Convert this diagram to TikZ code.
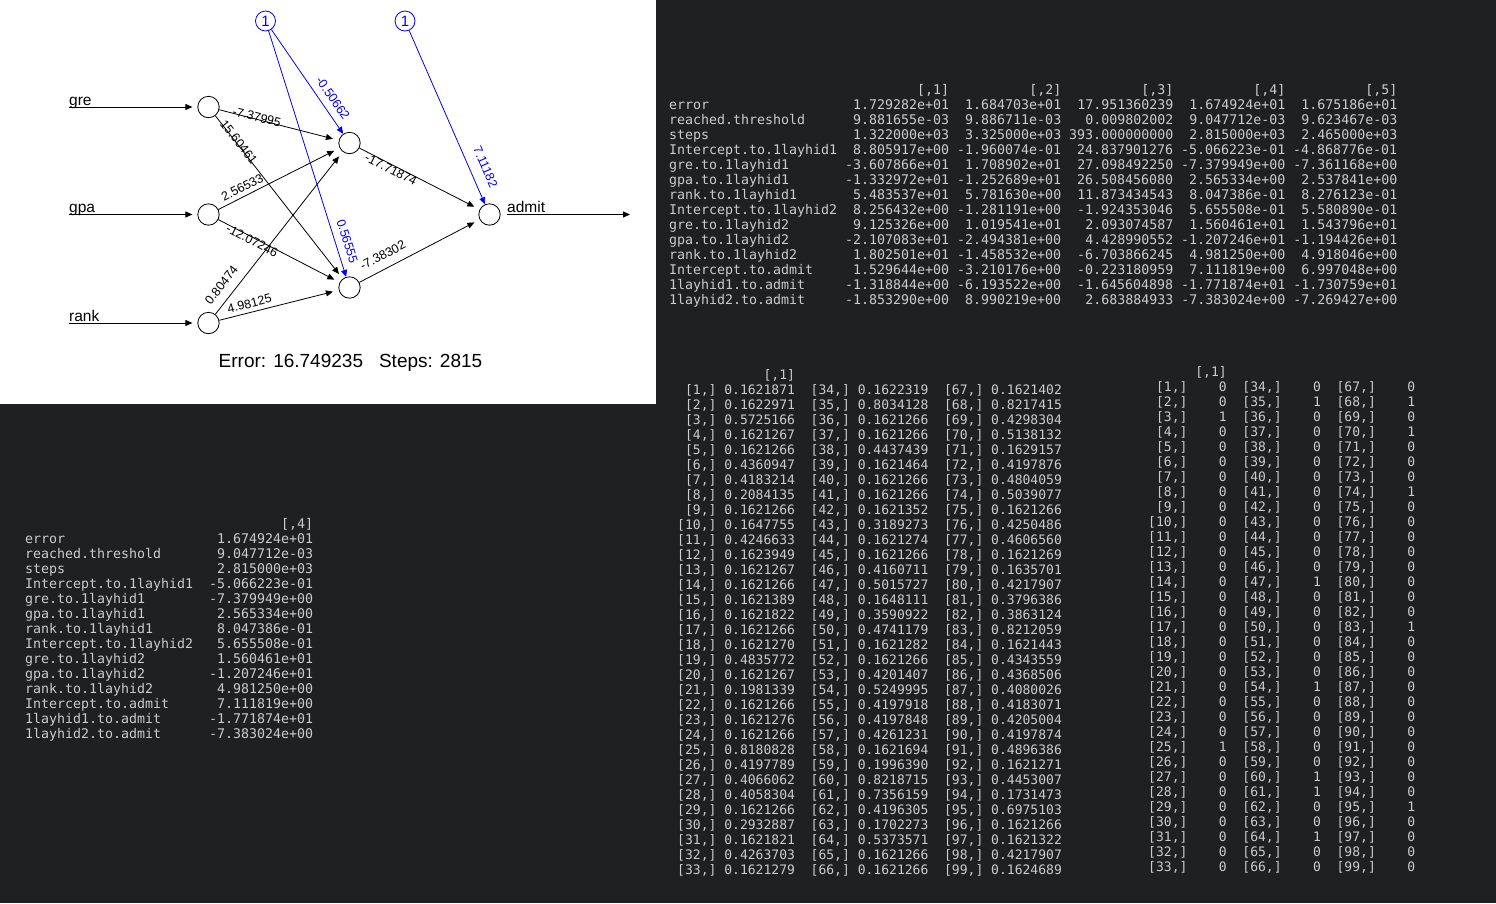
\documentclass[tikz,border=0pt]{standalone}
\usepackage{fontspec}
\setmainfont{Liberation Sans}
\newfontfamily\rmono{DejaVu Sans Mono}
\usetikzlibrary{arrows.meta}
\definecolor{consolebg}{RGB}{31,32,34}
\definecolor{consoletext}{RGB}{204,204,204}
\newcommand{\rowix}[1]{[#1,]}

\begin{document}
\begin{tikzpicture}[
    x=1pt, y=-1pt,
    neuron/.style={circle, draw=black, line width=0.8pt, minimum size=21.4pt, inner sep=0pt},
    bias/.style={circle, draw=blue, text=blue, line width=0.8pt, minimum size=20pt, inner sep=0pt, font=\fontsize{15}{15}\selectfont},
    link/.style={line width=0.8pt, -{Triangle[length=7pt,width=6pt]}, shorten >=6pt},
    biaslink/.style={link, draw=blue, shorten >=0pt},
    weight/.style={sloped, inner sep=1pt, font=\fontsize{12.5}{12.5}\selectfont},
    wup/.style={weight, above=3pt},
    wdown/.style={weight, above=-3.5pt},
    wbias/.style={weight, text=blue, above=6pt},
    varname/.style={anchor=base west, inner sep=0pt, font=\fontsize{15.5}{15.5}\selectfont},
    console/.style={anchor=north west, inner sep=0pt, text=consoletext}
]
\useasboundingbox (0,0) rectangle (1496,903);
\fill[consolebg] (0,0) rectangle (1496,903);
\fill[white] (0,0) rectangle (656,404);

% Input layer
\node[neuron] (gre) at (208.5,107) {};
\node[neuron] (gpa) at (208.5,214.5) {};
\node[neuron] (rank) at (208.5,323) {};
% Hidden layer
\node[neuron] (hid1) at (349.5,143) {};
\node[neuron] (hid2) at (349.5,287.5) {};
% Output layer
\node[neuron] (admit) at (489.5,214.5) {};
% Bias nodes
\node[bias] (one1) at (265.5,21) {1};
\node[bias] (one2) at (405,21) {1};

% Input and output lines
\coordinate (grein) at (69,107);
\coordinate (gpain) at (69,214.5);
\coordinate (rankin) at (69,323);
\coordinate (admitend) at (630,214.5);
\node[varname] (lgre) at (69,105) {gre};
\node[varname] (lgpa) at (69,212.5) {gpa};
\node[varname] (lrank) at (69,321) {rank};
\node[varname] (ladmit) at (507,212.5) {admit};
\draw[link, shorten >=5pt] (grein) -- (gre);
\draw[link, shorten >=5pt] (gpain) -- (gpa);
\draw[link, shorten >=5pt] (rankin) -- (rank);
\draw[link, shorten >=0pt] ([xshift=6pt]admit.east) -- (admitend);

% Weights
\draw[link] (gre) -- node[wdown, pos=0.31] (wgre1) {-7.37995} (hid1);
\draw[link] (gre) -- node[wdown, pos=0.17] (wgre2) {15.60461} (hid2);
\draw[link] (gpa) -- node[wup, pos=0.23] (wgpa1) {2.56533} (hid1);
\draw[link] (gpa) -- node[wdown, pos=0.29, above=-5.5pt] (wgpa2) {-12.07246} (hid2);
\draw[link] (rank) -- node[wup, pos=0.13, above=4.5pt] (wrank1) {0.80474} (hid1);
\draw[link] (rank) -- node[wup, pos=0.27] (wrank2) {4.98125} (hid2);
\draw[link] (hid1) -- node[wdown, pos=0.28, above=-7pt] (whid1) {-17.71874} (admit);
\draw[link] (hid2) -- node[wup, pos=0.245, above=4.5pt] (whid2) {-7.38302} (admit);
\draw[biaslink] (one1) -- node[wbias, pos=0.72] (wone1) {-0.50662} (hid1);
\draw[biaslink] (one1) -- node[wbias, pos=0.87] (wone2) {0.56555} (hid2);
\draw[biaslink] (one2) -- node[wbias, pos=0.82, above=3.5pt] (wone3) {7.11182} (admit);

\node[font=\fontsize{19}{19}\selectfont] (errline) at (350.5,362.5) {Error: 16.749235\hspace{16pt}Steps: 2815};

% Console output: all repetitions
\node[console, font=\rmono\fontsize{13.29}{15}\selectfont] (fitall) at (669,83.5) {%
\begin{tabular}{@{}l@{\hspace{8pt}}r@{\hspace{8pt}}r@{\hspace{8pt}}r@{\hspace{8pt}}r@{\hspace{8pt}}r@{}}
 & [,1] & [,2] & [,3] & [,4] & [,5]\\
error & 1.729282e+01 & 1.684703e+01 & 17.951360239 & 1.674924e+01 & 1.675186e+01\\
reached.threshold & 9.881655e-03 & 9.886711e-03 & 0.009802002 & 9.047712e-03 & 9.623467e-03\\
steps & 1.322000e+03 & 3.325000e+03 & 393.000000000 & 2.815000e+03 & 2.465000e+03\\
Intercept.to.1layhid1 & 8.805917e+00 & -1.960074e-01 & 24.837901276 & -5.066223e-01 & -4.868776e-01\\
gre.to.1layhid1 & -3.607866e+01 & 1.708902e+01 & 27.098492250 & -7.379949e+00 & -7.361168e+00\\
gpa.to.1layhid1 & -1.332972e+01 & -1.252689e+01 & 26.508456080 & 2.565334e+00 & 2.537841e+00\\
rank.to.1layhid1 & 5.483537e+01 & 5.781630e+00 & 11.873434543 & 8.047386e-01 & 8.276123e-01\\
Intercept.to.1layhid2 & 8.256432e+00 & -1.281191e+00 & -1.924353046 & 5.655508e-01 & 5.580890e-01\\
gre.to.1layhid2 & 9.125326e+00 & 1.019541e+01 & 2.093074587 & 1.560461e+01 & 1.543796e+01\\
gpa.to.1layhid2 & -2.107083e+01 & -2.494381e+00 & 4.428990552 & -1.207246e+01 & -1.194426e+01\\
rank.to.1layhid2 & 1.802501e+01 & -1.458532e+00 & -6.703866245 & 4.981250e+00 & 4.918046e+00\\
Intercept.to.admit & 1.529644e+00 & -3.210176e+00 & -0.223180959 & 7.111819e+00 & 6.997048e+00\\
1layhid1.to.admit & -1.318844e+00 & -6.193522e+00 & -1.645604898 & -1.771874e+01 & -1.730759e+01\\
1layhid2.to.admit & -1.853290e+00 & 8.990219e+00 & 2.683884933 & -7.383024e+00 & -7.269427e+00\\
\end{tabular}};

% Console output: best repetition
\node[console, font=\rmono\fontsize{13.29}{15}\selectfont] (fitbest) at (25,518) {%
\begin{tabular}{@{}l@{\hspace{16pt}}r@{}}
 & [,4]\\
error & 1.674924e+01\\
reached.threshold & 9.047712e-03\\
steps & 2.815000e+03\\
Intercept.to.1layhid1 & -5.066223e-01\\
gre.to.1layhid1 & -7.379949e+00\\
gpa.to.1layhid1 & 2.565334e+00\\
rank.to.1layhid1 & 8.047386e-01\\
Intercept.to.1layhid2 & 5.655508e-01\\
gre.to.1layhid2 & 1.560461e+01\\
gpa.to.1layhid2 & -1.207246e+01\\
rank.to.1layhid2 & 4.981250e+00\\
Intercept.to.admit & 7.111819e+00\\
1layhid1.to.admit & -1.771874e+01\\
1layhid2.to.admit & -7.383024e+00\\
\end{tabular}};

% Console output: fitted probabilities
\node[console, font=\rmono\fontsize{13.04}{15}\selectfont] (fitprob) at (677,369) {%
\begin{tabular}{@{}r@{\hspace{7.85pt}}r@{\hspace{15.7pt}}r@{\hspace{7.85pt}}r@{\hspace{15.7pt}}r@{\hspace{7.85pt}}r@{}}
 & [,1] & & & & \\
\rowix{1} & 0.1621871 & \rowix{34} & 0.1622319 & \rowix{67} & 0.1621402\\
\rowix{2} & 0.1622971 & \rowix{35} & 0.8034128 & \rowix{68} & 0.8217415\\
\rowix{3} & 0.5725166 & \rowix{36} & 0.1621266 & \rowix{69} & 0.4298304\\
\rowix{4} & 0.1621267 & \rowix{37} & 0.1621266 & \rowix{70} & 0.5138132\\
\rowix{5} & 0.1621266 & \rowix{38} & 0.4437439 & \rowix{71} & 0.1629157\\
\rowix{6} & 0.4360947 & \rowix{39} & 0.1621464 & \rowix{72} & 0.4197876\\
\rowix{7} & 0.4183214 & \rowix{40} & 0.1621266 & \rowix{73} & 0.4804059\\
\rowix{8} & 0.2084135 & \rowix{41} & 0.1621266 & \rowix{74} & 0.5039077\\
\rowix{9} & 0.1621266 & \rowix{42} & 0.1621352 & \rowix{75} & 0.1621266\\
\rowix{10} & 0.1647755 & \rowix{43} & 0.3189273 & \rowix{76} & 0.4250486\\
\rowix{11} & 0.4246633 & \rowix{44} & 0.1621274 & \rowix{77} & 0.4606560\\
\rowix{12} & 0.1623949 & \rowix{45} & 0.1621266 & \rowix{78} & 0.1621269\\
\rowix{13} & 0.1621267 & \rowix{46} & 0.4160711 & \rowix{79} & 0.1635701\\
\rowix{14} & 0.1621266 & \rowix{47} & 0.5015727 & \rowix{80} & 0.4217907\\
\rowix{15} & 0.1621389 & \rowix{48} & 0.1648111 & \rowix{81} & 0.3796386\\
\rowix{16} & 0.1621822 & \rowix{49} & 0.3590922 & \rowix{82} & 0.3863124\\
\rowix{17} & 0.1621266 & \rowix{50} & 0.4741179 & \rowix{83} & 0.8212059\\
\rowix{18} & 0.1621270 & \rowix{51} & 0.1621282 & \rowix{84} & 0.1621443\\
\rowix{19} & 0.4835772 & \rowix{52} & 0.1621266 & \rowix{85} & 0.4343559\\
\rowix{20} & 0.1621267 & \rowix{53} & 0.4201407 & \rowix{86} & 0.4368506\\
\rowix{21} & 0.1981339 & \rowix{54} & 0.5249995 & \rowix{87} & 0.4080026\\
\rowix{22} & 0.1621266 & \rowix{55} & 0.4197918 & \rowix{88} & 0.4183071\\
\rowix{23} & 0.1621276 & \rowix{56} & 0.4197848 & \rowix{89} & 0.4205004\\
\rowix{24} & 0.1621266 & \rowix{57} & 0.4261231 & \rowix{90} & 0.4197874\\
\rowix{25} & 0.8180828 & \rowix{58} & 0.1621694 & \rowix{91} & 0.4896386\\
\rowix{26} & 0.4197789 & \rowix{59} & 0.1996390 & \rowix{92} & 0.1621271\\
\rowix{27} & 0.4066062 & \rowix{60} & 0.8218715 & \rowix{93} & 0.4453007\\
\rowix{28} & 0.4058304 & \rowix{61} & 0.7356159 & \rowix{94} & 0.1731473\\
\rowix{29} & 0.1621266 & \rowix{62} & 0.4196305 & \rowix{95} & 0.6975103\\
\rowix{30} & 0.2932887 & \rowix{63} & 0.1702273 & \rowix{96} & 0.1621266\\
\rowix{31} & 0.1621821 & \rowix{64} & 0.5373571 & \rowix{97} & 0.1621322\\
\rowix{32} & 0.4263703 & \rowix{65} & 0.1621266 & \rowix{98} & 0.4217907\\
\rowix{33} & 0.1621279 & \rowix{66} & 0.1621266 & \rowix{99} & 0.1624689\\
\end{tabular}};

% Console output: predicted classes
\node[console, font=\rmono\fontsize{13.04}{15}\selectfont] (fitclass) at (1148,366) {%
\begin{tabular}{@{}r@{\hspace{7.85pt}}r@{\hspace{15.7pt}}r@{\hspace{31.4pt}}r@{\hspace{15.7pt}}r@{\hspace{31.4pt}}r@{}}
 & [,1] & & & & \\
\rowix{1} & 0 & \rowix{34} & 0 & \rowix{67} & 0\\
\rowix{2} & 0 & \rowix{35} & 1 & \rowix{68} & 1\\
\rowix{3} & 1 & \rowix{36} & 0 & \rowix{69} & 0\\
\rowix{4} & 0 & \rowix{37} & 0 & \rowix{70} & 1\\
\rowix{5} & 0 & \rowix{38} & 0 & \rowix{71} & 0\\
\rowix{6} & 0 & \rowix{39} & 0 & \rowix{72} & 0\\
\rowix{7} & 0 & \rowix{40} & 0 & \rowix{73} & 0\\
\rowix{8} & 0 & \rowix{41} & 0 & \rowix{74} & 1\\
\rowix{9} & 0 & \rowix{42} & 0 & \rowix{75} & 0\\
\rowix{10} & 0 & \rowix{43} & 0 & \rowix{76} & 0\\
\rowix{11} & 0 & \rowix{44} & 0 & \rowix{77} & 0\\
\rowix{12} & 0 & \rowix{45} & 0 & \rowix{78} & 0\\
\rowix{13} & 0 & \rowix{46} & 0 & \rowix{79} & 0\\
\rowix{14} & 0 & \rowix{47} & 1 & \rowix{80} & 0\\
\rowix{15} & 0 & \rowix{48} & 0 & \rowix{81} & 0\\
\rowix{16} & 0 & \rowix{49} & 0 & \rowix{82} & 0\\
\rowix{17} & 0 & \rowix{50} & 0 & \rowix{83} & 1\\
\rowix{18} & 0 & \rowix{51} & 0 & \rowix{84} & 0\\
\rowix{19} & 0 & \rowix{52} & 0 & \rowix{85} & 0\\
\rowix{20} & 0 & \rowix{53} & 0 & \rowix{86} & 0\\
\rowix{21} & 0 & \rowix{54} & 1 & \rowix{87} & 0\\
\rowix{22} & 0 & \rowix{55} & 0 & \rowix{88} & 0\\
\rowix{23} & 0 & \rowix{56} & 0 & \rowix{89} & 0\\
\rowix{24} & 0 & \rowix{57} & 0 & \rowix{90} & 0\\
\rowix{25} & 1 & \rowix{58} & 0 & \rowix{91} & 0\\
\rowix{26} & 0 & \rowix{59} & 0 & \rowix{92} & 0\\
\rowix{27} & 0 & \rowix{60} & 1 & \rowix{93} & 0\\
\rowix{28} & 0 & \rowix{61} & 1 & \rowix{94} & 0\\
\rowix{29} & 0 & \rowix{62} & 0 & \rowix{95} & 1\\
\rowix{30} & 0 & \rowix{63} & 0 & \rowix{96} & 0\\
\rowix{31} & 0 & \rowix{64} & 1 & \rowix{97} & 0\\
\rowix{32} & 0 & \rowix{65} & 0 & \rowix{98} & 0\\
\rowix{33} & 0 & \rowix{66} & 0 & \rowix{99} & 0\\
\end{tabular}};
\end{tikzpicture}
\end{document}
